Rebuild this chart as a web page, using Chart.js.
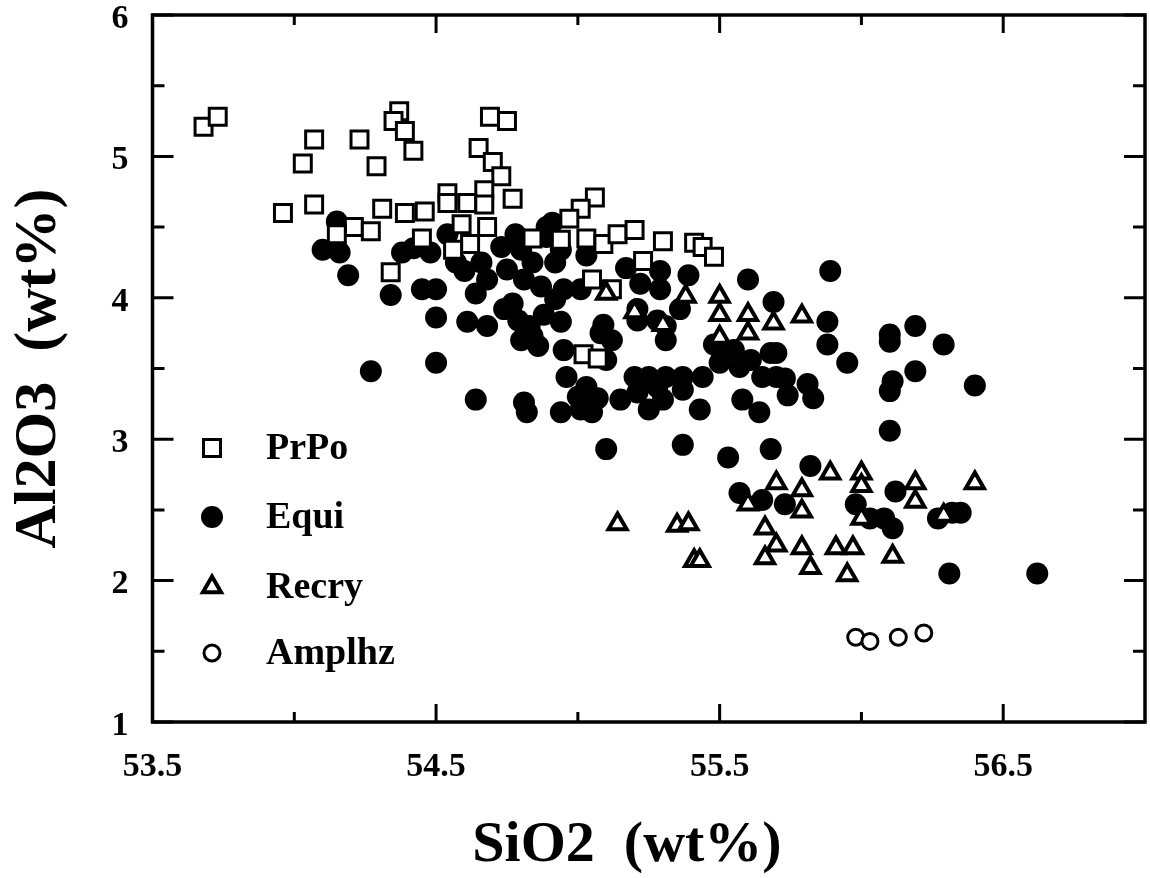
<!DOCTYPE html>
<html><head><meta charset="utf-8">
<script src="https://cdn.jsdelivr.net/npm/chart.js@4.4.1/dist/chart.umd.min.js"></script>
<style>html,body{margin:0;padding:0;background:#fff}#wrap{width:1150px;height:878px}</style>
</head><body><div id="wrap"><canvas id="c" width="1150" height="878"></canvas></div>
<script>
// ---- data ----
const seriesNames = ['PrPo', 'Equi', 'Recry', 'Amplhz'];
const prpo = [[53.68,5.21],[53.73,5.28],[54.07,5.12],[54.03,4.95],[54.23,5.12],[54.29,4.93],[54.37,5.32],[54.35,5.25],[54.39,5.18],[54.42,5.04],[54.69,5.28],[54.75,5.25],[54.65,5.06],[54.70,4.96],[54.73,4.86],[53.96,4.60],[54.07,4.66],[54.31,4.63],[54.39,4.60],[54.54,4.74],[54.67,4.76],[54.77,4.70],[54.21,4.50],[54.27,4.47],[54.46,4.61],[54.54,4.67],[54.61,4.67],[54.67,4.66],[54.68,4.50],[54.59,4.52],[54.84,4.42],[54.62,4.38],[54.56,4.34],[54.45,4.42],[54.34,4.18],[54.15,4.45],[55.06,4.71],[55.01,4.63],[54.97,4.56],[54.94,4.41],[55.03,4.42],[55.09,4.38],[55.14,4.45],[55.20,4.48],[55.30,4.40],[55.23,4.26],[55.41,4.39],[55.44,4.36],[55.48,4.29],[55.05,4.13],[55.12,4.06],[55.02,3.60],[55.07,3.57]];
const equi = [[54.15,4.54],[54.10,4.34],[54.16,4.32],[54.19,4.16],[54.38,4.32],[54.42,4.35],[54.48,4.32],[54.34,4.02],[54.45,4.06],[54.50,4.06],[54.50,3.86],[54.61,3.83],[54.60,4.19],[54.64,4.03],[54.68,3.80],[54.54,4.45],[54.27,3.48],[54.50,3.54],[54.64,3.28],[54.81,3.26],[54.82,3.19],[54.73,4.36],[54.75,4.20],[54.77,3.96],[54.81,4.13],[54.84,4.25],[54.87,4.08],[54.83,3.80],[54.86,3.66],[54.91,4.53],[54.89,4.43],[54.68,4.13],[54.74,3.92],[54.80,3.70],[54.79,3.84],[54.94,3.83],[54.95,3.63],[54.96,3.44],[54.94,3.19],[55.01,3.21],[55.05,3.19],[55.00,3.30],[55.07,3.29],[55.03,3.37],[55.03,4.30],[55.01,4.06],[55.08,3.75],[55.12,3.70],[55.10,3.56],[55.09,3.81],[55.17,4.21],[55.22,4.10],[55.29,4.19],[55.29,4.06],[55.39,4.16],[55.60,4.13],[55.89,4.19],[55.21,3.92],[55.36,3.92],[55.31,3.80],[55.28,3.84],[55.21,3.84],[55.31,3.70],[55.20,3.44],[55.25,3.44],[55.31,3.44],[55.37,3.44],[55.15,3.28],[55.25,3.21],[55.30,3.28],[55.21,3.33],[55.28,3.37],[55.43,3.21],[55.37,3.35],[55.44,3.44],[55.50,3.54],[55.57,3.51],[55.61,3.56],[55.65,3.44],[55.68,3.61],[55.58,3.28],[55.64,3.19],[55.74,3.31],[55.81,3.39],[55.83,3.29],[55.73,3.43],[55.88,3.83],[55.88,3.67],[55.95,3.54],[55.50,3.64],[55.55,3.63],[55.69,3.97],[55.70,3.61],[55.70,3.44],[55.48,3.67],[55.10,2.93],[55.37,2.96],[55.53,2.87],[55.68,2.93],[55.82,2.81],[55.57,2.62],[56.10,3.74],[56.10,3.69],[56.19,3.80],[56.29,3.67],[56.19,3.48],[56.11,3.41],[56.10,3.34],[56.40,3.38],[56.10,3.06],[55.65,2.57],[55.73,2.54],[55.98,2.54],[56.03,2.44],[56.08,2.44],[56.11,2.37],[56.12,2.63],[56.27,2.44],[56.32,2.48],[56.35,2.48],[56.31,2.05],[56.62,2.05],[54.66,4.25],[54.80,4.34],[54.92,4.25],[54.88,3.88],[54.92,3.99],[54.95,4.06],[54.57,4.25],[54.94,4.34],[54.78,4.45],[54.84,3.73],[54.89,4.50]];
const recry = [[55.10,4.03],[55.20,3.90],[55.30,3.81],[55.38,4.01],[55.50,4.01],[55.50,3.88],[55.50,3.72],[55.60,3.88],[55.60,3.75],[55.69,3.82],[55.79,3.87],[55.14,2.40],[55.35,2.39],[55.39,2.40],[55.41,2.14],[55.43,2.14],[55.70,2.69],[55.79,2.64],[55.89,2.76],[56.00,2.76],[56.00,2.67],[56.19,2.69],[56.19,2.56],[56.40,2.69],[55.60,2.54],[55.79,2.49],[56.00,2.44],[56.29,2.46],[55.66,2.37],[55.70,2.25],[55.66,2.16],[55.79,2.23],[55.82,2.09],[55.91,2.23],[55.97,2.23],[55.95,2.04],[56.11,2.17]];
const amplhz = [[55.98,1.60],[56.03,1.57],[56.13,1.60],[56.22,1.63]];
const xTickLabels = [53.5, 54.5, 55.5, 56.5];
const xMinorTicks = [54, 55, 56];
const yTickLabels = [1, 2, 3, 4, 5, 6];
const yMinorTicks = [1.5, 2.5, 3.5, 4.5, 5.5];
const xTitle = 'SiO2  (wt%)   ';
const yTitle = 'Al2O3  (wt%)';

const toPts = a => a.map(p => ({x: p[0], y: p[1]}));
const SERIF = '"Liberation Serif", "Times New Roman", serif';

const framePlugin = {
  id: 'frame',
  afterDatasetsDraw(chart) {
    const {ctx, chartArea: {left, right, top, bottom}, scales: {x, y}} = chart;
    ctx.save();
    ctx.strokeStyle = '#000';
    ctx.lineCap = 'butt';
    ctx.lineWidth = 3;
    const xt = (vals, len) => vals.forEach(v => {
      const px = x.getPixelForValue(v);
      ctx.beginPath();
      ctx.moveTo(px, bottom); ctx.lineTo(px, bottom - len);
      ctx.moveTo(px, top); ctx.lineTo(px, top + len);
      ctx.stroke();
    });
    const yt = (vals, len) => vals.forEach(v => {
      const py = y.getPixelForValue(v);
      ctx.beginPath();
      ctx.moveTo(left, py); ctx.lineTo(left + len, py);
      ctx.moveTo(right, py); ctx.lineTo(right - len, py);
      ctx.stroke();
    });
    xt(xTickLabels, 18); xt(xMinorTicks, 10);
    yt(yTickLabels, 21); yt(yMinorTicks, 12);
    ctx.lineWidth = 3.5;
    ctx.strokeRect(left, top, right - left, bottom - top);
    ctx.restore();
  }
};

const legendRows = [448, 517, 587, 653];
const legendPlugin = {
  id: 'customLegend',
  afterDraw(chart) {
    const ctx = chart.ctx;
    chart.data.datasets.forEach((ds, i) => {
      const py = legendRows[i], px = 212;
      ctx.save();
      ctx.lineWidth = ds.borderWidth;
      ctx.strokeStyle = ds.borderColor;
      ctx.fillStyle = ds.backgroundColor;
      Chart.helpers.drawPoint(ctx, {pointStyle: ds.pointStyle, radius: ds.pointRadius, borderWidth: ds.borderWidth, rotation: 0}, px, py);
      ctx.restore();
      ctx.save();
      ctx.font = 'bold 38px ' + SERIF;
      ctx.fillStyle = '#000';
      ctx.textBaseline = 'middle';
      ctx.fillText(ds.label, 266, py + 1);
      ctx.restore();
    });
  }
};

const zeroPad = s => { s.paddingTop = 0; s.paddingBottom = 0; s.paddingLeft = 0; s.paddingRight = 0; };

new Chart(document.getElementById('c'), {
  type: 'scatter',
  data: {
    datasets: [
      {label: seriesNames[0], data: toPts(prpo), pointStyle: 'rect', pointRadius: 12, borderWidth: 3, borderColor: '#000', backgroundColor: '#fff', order: 2},
      {label: seriesNames[1], data: toPts(equi), pointStyle: 'circle', pointRadius: 11, borderWidth: 0, borderColor: '#000', backgroundColor: '#000', order: 3},
      {label: seriesNames[2], data: toPts(recry), pointStyle: 'triangle', pointRadius: 10.5, borderWidth: 4, borderColor: '#000', backgroundColor: '#fff', order: 1},
      {label: seriesNames[3], data: toPts(amplhz), pointStyle: 'circle', pointRadius: 8, borderWidth: 3, borderColor: '#000', backgroundColor: '#fff', order: 1}
    ]
  },
  options: {
    responsive: false,
    animation: false,
    devicePixelRatio: 1,
    events: [],
    layout: {autoPadding: false, padding: {top: 15, right: 5, left: 0, bottom: 0}},
    plugins: {legend: {display: false}, tooltip: {enabled: false}},
    scales: {
      x: {
        type: 'linear', min: 53.5, max: 57,
        afterBuildTicks: s => { s.ticks = xTickLabels.map(v => ({value: v})); },
        afterFit: s => { s.height = 156; zeroPad(s); },
        grid: {display: false, drawTicks: false},
        border: {display: false},
        ticks: {color: '#000', padding: 25, maxRotation: 0, autoSkip: false,
                font: {family: SERIF, size: 34, weight: 'bold'},
                callback: v => String(v)},
        title: {display: true, text: xTitle, color: '#000',
                font: {family: SERIF, size: 58, weight: 'bold', lineHeight: 1},
                padding: {top: 0, bottom: 3}}
      },
      y: {
        type: 'linear', min: 1, max: 6,
        afterBuildTicks: s => { s.ticks = yTickLabels.map(v => ({value: v})); },
        afterFit: s => { s.width = 152.5; zeroPad(s); },
        grid: {display: false, drawTicks: false},
        border: {display: false},
        ticks: {color: '#000', padding: 24, labelOffset: 4, autoSkip: false,
                font: {family: SERIF, size: 34, weight: 'bold'},
                callback: v => String(v)},
        title: {display: true, text: yTitle, color: '#000',
                font: {family: SERIF, size: 60, weight: 'bold', lineHeight: 1},
                padding: {top: 9, bottom: 0}}
      }
    }
  },
  plugins: [framePlugin, legendPlugin]
});
</script></body></html>
